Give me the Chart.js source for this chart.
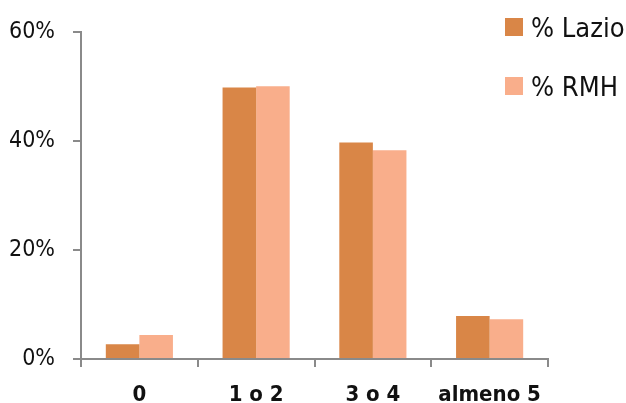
<!DOCTYPE html>
<html>
<head>
  <meta name="viewport" content="width=device-width, initial-scale=1.0">
  <script src="https://cdn.jsdelivr.net/npm/chart.js"></script>
  <style>
    body {
      margin: 0;
      padding: 0;
      background: #ffffff;
      font-family: 'Liberation Sans Narrow', 'DejaVu Sans Condensed', sans-serif;
    }

    .wrap {
      position: relative;
      width: 626px;
      height: 403px;
    }

    #legend {
      position: absolute;
      left: 505px;
      top: 10px;
      font-size: 27px;
      color: #111;
    }

    #legend div {
      display: flex;
      align-items: center;
      height: 34px;
      margin-bottom: 25px;
    }

    #legend span.box {
      display: inline-block;
      width: 18px;
      height: 18px;
      margin-right: 8px;
    }
  </style>
</head>
<body>

  <div class="wrap">
    <canvas id="chart" width="626" height="403"></canvas>
    <div id="legend"></div>
  </div>

  <script>
    // dati
    const categorie = ['0', '1 o 2', '3 o 4', 'almeno 5'];
    const lazio = [2.7, 49.8, 39.7, 7.9];
    const rmh = [4.4, 50.0, 38.3, 7.3];
    const yTicks = [0, 20, 40, 60];

    const coloreLazio = '#d98647';
    const coloreRmh = '#f9ae8b';
    const grigio = '#8a8a8a';
    const font = "'Liberation Sans Narrow', 'DejaVu Sans Condensed', sans-serif";

    const ctx = document.getElementById('chart').getContext('2d');
    const chart = new Chart(ctx, {
      type: 'bar',
      data: {
        labels: categorie,
        datasets: [
          {
            label: '% Lazio',
            data: lazio,
            backgroundColor: coloreLazio,
            categoryPercentage: 0.575,
            barPercentage: 1.0
          },
          {
            label: '% RMH',
            data: rmh,
            backgroundColor: coloreRmh,
            categoryPercentage: 0.575,
            barPercentage: 1.0
          }
        ]
      },
      options: {
        responsive: false,
        animation: false,
        layout: {
          padding: { top: 17, right: 78, left: 0, bottom: 0 }
        },
        plugins: {
          legend: { display: false },
          tooltip: { enabled: false }
        },
        scales: {
          x: {
            offset: true,
            afterFit: (axis) => { axis.height = 44; },
            grid: {
              offset: true,
              drawOnChartArea: false,
              color: grigio,
              tickLength: 8,
              lineWidth: 2
            },
            border: { color: grigio, width: 2 },
            ticks: {
              color: '#111',
              padding: 17,
              font: { family: font, size: 22, weight: 'bold', lineHeight: 1.0 }
            }
          },
          y: {
            min: 0,
            max: 60,
            afterFit: (axis) => { axis.width = 81; },
            afterBuildTicks: (axis) => {
              axis.ticks = yTicks.map(v => ({ value: v }));
            },
            grid: {
              drawOnChartArea: false,
              color: grigio,
              tickLength: 8,
              lineWidth: 2
            },
            border: { color: grigio, width: 2 },
            ticks: {
              color: '#111',
              padding: 18,
              callback: (v) => v + '%',
              font: { family: font, size: 23 }
            }
          }
        }
      }
    });

    // legenda in HTML
    const legend = document.getElementById('legend');
    chart.data.datasets.forEach(ds => {
      const row = document.createElement('div');
      const box = document.createElement('span');
      box.className = 'box';
      box.style.background = ds.backgroundColor;
      row.appendChild(box);
      row.appendChild(document.createTextNode(ds.label));
      legend.appendChild(row);
    });
  </script>
</body>
</html>
